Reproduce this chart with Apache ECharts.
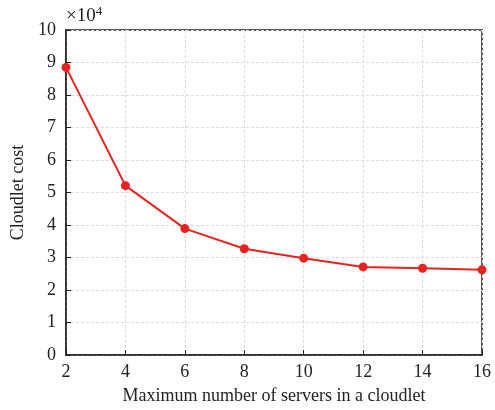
<!DOCTYPE html>
<html><head><meta charset="utf-8">
<script src="https://cdn.jsdelivr.net/npm/echarts@6/dist/echarts.min.js"></script>
<style>html,body{margin:0;padding:0;background:#fff}#c{width:495px;height:410px}</style>
</head><body><div id="c"></div>
<script>
const xValues = [2, 4, 6, 8, 10, 12, 14, 16];
const costValues = [8.85, 5.21, 3.89, 3.27, 2.98, 2.71, 2.67, 2.62];
const yTicks = [0,1,2,3,4,5,6,7,8,9,10];
const xTicks = [2,4,6,8,10,12,14,16];

const chart = echarts.init(document.getElementById('c'));
const font = 'Liberation Serif';
chart.setOption({
  animation: false,
  grid: {left: 66, right: 13, top: 30, bottom: 53, show: true, borderColor: '#222', borderWidth: 1.5, backgroundColor: 'transparent'},
  xAxis: {
    type: 'value', min: 2, max: 16, interval: 2,
    name: 'Maximum number of servers in a cloudlet', nameLocation: 'middle', nameGap: 32,
    nameTextStyle: {fontFamily: font, fontSize: 18, color: '#222'},
    axisLine: {lineStyle: {color: '#222', width: 1.5}},
    axisTick: {inside: true, length: 5, lineStyle: {color: '#222'}},
    axisLabel: {fontFamily: font, fontSize: 18, color: '#222', margin: 8},
    splitLine: {show: true, lineStyle: {color: '#dcdcdc', type: [3, 2]}}
  },
  yAxis: {
    type: 'value', min: 0, max: 10, interval: 1,
    name: 'Cloudlet cost', nameLocation: 'middle', nameGap: 31,
    nameTextStyle: {fontFamily: font, fontSize: 18, color: '#222'},
    axisLine: {lineStyle: {color: '#222', width: 1.5}},
    axisTick: {inside: true, length: 5, lineStyle: {color: '#222'}},
    axisLabel: {fontFamily: font, fontSize: 18, color: '#222', margin: 10},
    splitLine: {show: true, lineStyle: {color: '#dcdcdc', type: [3, 2]}}
  },
  graphic: [{
    type: 'text', left: 66, top: 5,
    style: {
      text: '{a|×10}{b|4}',
      rich: {
        a: {fontFamily: font, fontSize: 19, fill: '#222'},
        b: {fontFamily: font, fontSize: 13, fill: '#222', verticalAlign: 'top', padding: [0,0,9,0]}
      }
    }
  }],
  series: [{
    type: 'line',
    data: xValues.map((x, i) => [x, costValues[i]]),
    symbol: 'circle', symbolSize: 9,
    lineStyle: {color: '#e8231f', width: 2},
    itemStyle: {color: '#e8231f'},
    clip: false
  }]
});
</script></body></html>
